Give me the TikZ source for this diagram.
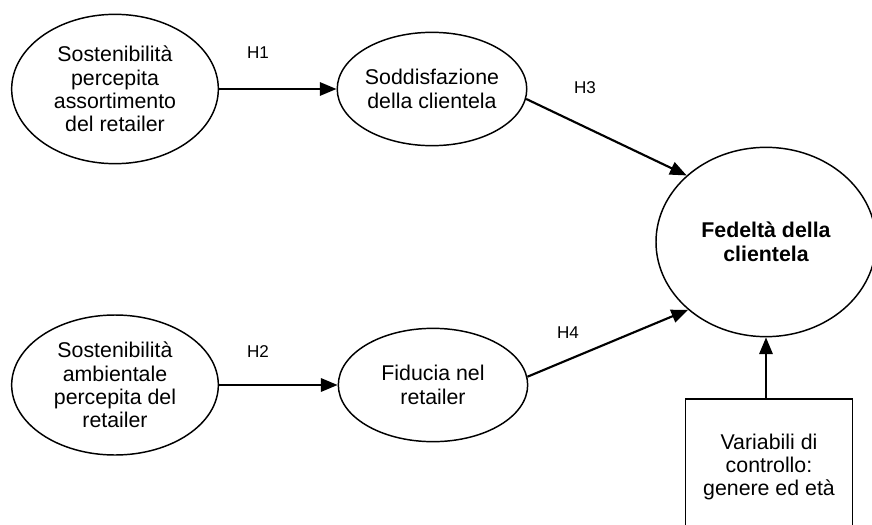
\documentclass[tikz,border=0pt]{standalone}
\usepackage{fontspec}
\setmainfont{Liberation Sans}
\usetikzlibrary{arrows.meta,positioning,shapes.geometric}

\begin{document}
\begin{tikzpicture}[x=0.75pt,y=-0.75pt,
  construct/.style={draw,ellipse,line width=1.1pt,inner sep=0pt,align=center,
    font=\fontsize{16}{17.6}\selectfont},
  ctrlbox/.style={draw,rectangle,line width=1.1pt,inner sep=0pt,align=center,
    minimum width=125pt,minimum height=102pt,font=\fontsize{16}{17.6}\selectfont},
  hyp/.style={-{Triangle[length=12.5pt,width=10pt]},line width=1.6pt},
  hlabel/.style={font=\fontsize{12.8}{14}\selectfont}]
        \clip (0,0) rectangle (872,525);
        % constructs
        \node[construct,minimum width=155pt,minimum height=112pt] (sassort) at (115,89)
          {Sostenibilità\\percepita\\assortimento\\del retailer};
        \node[construct,minimum width=155pt,minimum height=105pt] (samb) at (115,385)
          {Sostenibilità\\ambientale\\percepita del\\retailer};
        \node[construct,minimum width=142pt,minimum height=85pt] (soddisf) at (432,89)
          {Soddisfazione\\della clientela};
        \node[construct,minimum width=142pt,minimum height=85pt] (fiducia) at (433,385)
          {Fiducia nel\\retailer};
        \node[construct,minimum width=165pt,minimum height=142pt,font=\fontsize{16}{17.6}\selectfont\bfseries] (fedelta) at (766,242)
          {Fedeltà della\\clientela};
        \node[ctrlbox] (controllo) at (769,467) {Variabili di\\controllo:\\genere ed età};
        % hypotheses
        \draw[hyp] (sassort.east) -- (soddisf.west);
        \draw[hyp] (samb.east) -- (fiducia.west);
        \draw[hyp] (soddisf.-6) -- (fedelta.140);
        \draw[hyp] (fiducia.5) -- (fedelta.221);
        \draw[hyp] (controllo.north -| fedelta.south) -- (fedelta.south);
        \node[hlabel] (h1) at (258,53) {H1};
        \node[hlabel] (h2) at (258,352) {H2};
        \node[hlabel] (h3) at (585,88) {H3};
        \node[hlabel] (h4) at (568,333) {H4};
\end{tikzpicture}
\end{document}
